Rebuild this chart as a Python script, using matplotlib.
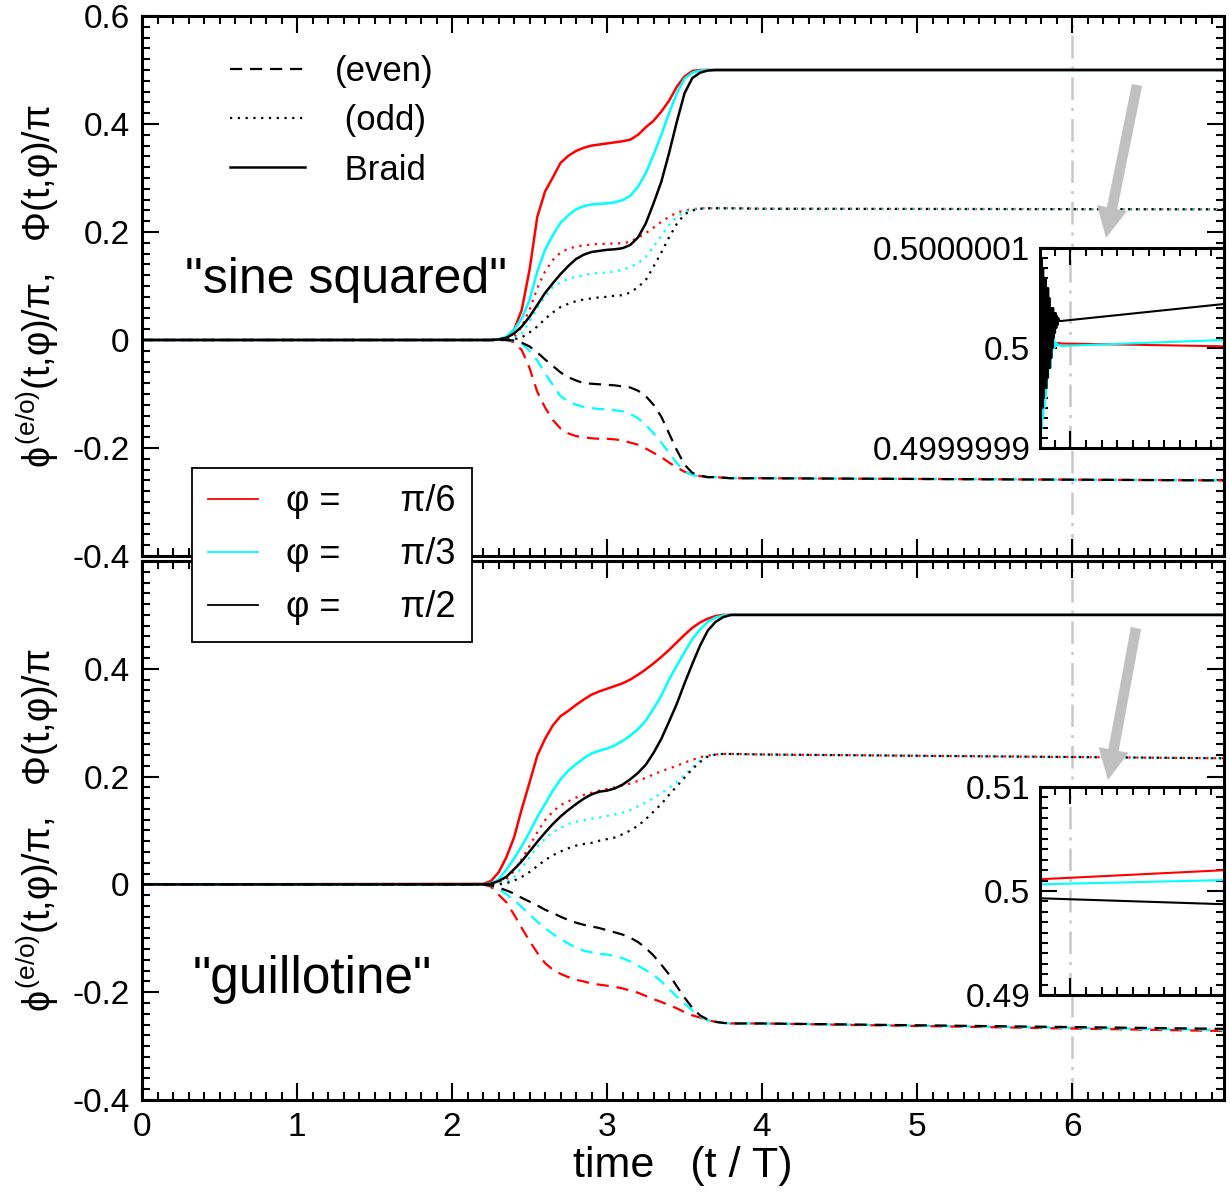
import matplotlib
matplotlib.use('Agg')
import matplotlib.pyplot as plt
from matplotlib.lines import Line2D
from matplotlib.patches import FancyArrowPatch
from matplotlib.ticker import MultipleLocator, FixedLocator

plt.rcParams['font.family'] = ['Liberation Sans', 'DejaVu Sans']
plt.rcParams['font.size'] = 24
plt.rcParams['axes.unicode_minus'] = False
plt.rcParams['mathtext.fontset'] = 'custom'
plt.rcParams['mathtext.rm'] = 'Liberation Sans'
plt.rcParams['mathtext.it'] = 'Liberation Sans'
plt.rcParams['mathtext.bf'] = 'Liberation Sans:bold'
plt.rcParams['mathtext.fallback'] = 'stixsans'

# time grid (t / T)
t_grid = [0.0, 2.20, 2.25, 2.30, 2.35, 2.40, 2.45, 2.50, 2.55, 2.60, 2.65, 2.70,
          2.75, 2.80, 2.85, 2.90, 2.95, 3.00, 3.05, 3.10, 3.15, 3.20, 3.25, 3.30,
          3.35, 3.40, 3.45, 3.50, 3.55, 3.60, 3.65, 3.70, 3.75, 3.80, 4.0, 6.98]

# "sine squared" pulse
sine_braid_red = [0, 0, 0, 0.001, 0.005, 0.019, 0.056, 0.130, 0.228, 0.275, 0.301, 0.328, 0.341, 0.350, 0.356, 0.360, 0.362, 0.364, 0.366, 0.368, 0.371, 0.380, 0.394, 0.406, 0.423, 0.443, 0.469, 0.488, 0.498, 0.500, 0.500, 0.500, 0.500, 0.500, 0.500, 0.500]
sine_braid_cyan = [0, 0, 0, 0.001, 0.006, 0.019, 0.040, 0.074, 0.127, 0.167, 0.194, 0.217, 0.231, 0.242, 0.248, 0.251, 0.252, 0.253, 0.255, 0.259, 0.267, 0.284, 0.309, 0.343, 0.380, 0.420, 0.457, 0.484, 0.495, 0.499, 0.500, 0.500, 0.500, 0.500, 0.500, 0.500]
sine_braid_black = [0, 0, 0, 0.001, 0.004, 0.012, 0.025, 0.043, 0.065, 0.087, 0.105, 0.122, 0.137, 0.150, 0.158, 0.163, 0.165, 0.167, 0.168, 0.170, 0.176, 0.190, 0.216, 0.253, 0.293, 0.346, 0.404, 0.457, 0.485, 0.495, 0.499, 0.500, 0.500, 0.500, 0.500, 0.500]
sine_odd_red = [0, 0, 0, 0, 0.001, 0.005, 0.025, 0.056, 0.096, 0.127, 0.148, 0.162, 0.169, 0.173, 0.175, 0.177, 0.178, 0.178, 0.179, 0.179, 0.182, 0.190, 0.198, 0.208, 0.219, 0.228, 0.236, 0.240, 0.242, 0.244, 0.244, 0.244, 0.244, 0.244, 0.243, 0.242]
sine_odd_cyan = [0, 0, 0, 0, 0, 0.002, 0.012, 0.034, 0.059, 0.080, 0.098, 0.107, 0.113, 0.117, 0.120, 0.123, 0.124, 0.125, 0.127, 0.130, 0.135, 0.142, 0.154, 0.173, 0.193, 0.213, 0.228, 0.238, 0.241, 0.243, 0.244, 0.244, 0.244, 0.244, 0.243, 0.242]
sine_odd_black = [0, 0, 0, 0, 0, 0.001, 0.005, 0.014, 0.025, 0.039, 0.051, 0.061, 0.067, 0.072, 0.075, 0.077, 0.079, 0.080, 0.082, 0.083, 0.088, 0.098, 0.111, 0.136, 0.162, 0.190, 0.215, 0.233, 0.240, 0.243, 0.244, 0.244, 0.244, 0.244, 0.243, 0.242]
sine_even_red = [0, 0, 0, 0, 0, -0.004, -0.019, -0.052, -0.096, -0.125, -0.148, -0.164, -0.173, -0.178, -0.180, -0.182, -0.183, -0.183, -0.184, -0.186, -0.190, -0.194, -0.201, -0.209, -0.217, -0.227, -0.236, -0.244, -0.249, -0.252, -0.254, -0.254, -0.255, -0.256, -0.256, -0.260]
sine_even_cyan = [0, 0, 0, 0, 0, -0.002, -0.007, -0.020, -0.038, -0.062, -0.083, -0.104, -0.114, -0.120, -0.124, -0.126, -0.128, -0.128, -0.130, -0.132, -0.137, -0.145, -0.157, -0.173, -0.190, -0.209, -0.228, -0.243, -0.250, -0.253, -0.254, -0.254, -0.255, -0.256, -0.256, -0.260]
sine_even_black = [0, 0, 0, 0, 0, -0.001, -0.005, -0.012, -0.023, -0.036, -0.048, -0.060, -0.069, -0.075, -0.080, -0.081, -0.082, -0.083, -0.084, -0.086, -0.088, -0.094, -0.104, -0.120, -0.142, -0.173, -0.204, -0.231, -0.246, -0.251, -0.254, -0.254, -0.255, -0.256, -0.256, -0.260]

# "guillotine" pulse
guil_braid_red = [0, 0.001, 0.006, 0.022, 0.050, 0.087, 0.140, 0.189, 0.239, 0.270, 0.295, 0.312, 0.322, 0.333, 0.343, 0.352, 0.358, 0.363, 0.368, 0.373, 0.380, 0.389, 0.399, 0.410, 0.422, 0.435, 0.449, 0.463, 0.476, 0.486, 0.493, 0.498, 0.500, 0.500, 0.500, 0.500]
guil_braid_cyan = [0, 0, 0.002, 0.009, 0.027, 0.048, 0.071, 0.097, 0.125, 0.149, 0.174, 0.195, 0.211, 0.223, 0.234, 0.243, 0.248, 0.252, 0.258, 0.266, 0.276, 0.288, 0.304, 0.326, 0.350, 0.380, 0.406, 0.431, 0.455, 0.473, 0.487, 0.495, 0.499, 0.500, 0.500, 0.500]
guil_braid_black = [0, 0, 0.001, 0.006, 0.014, 0.028, 0.043, 0.061, 0.079, 0.096, 0.112, 0.126, 0.138, 0.149, 0.159, 0.167, 0.172, 0.174, 0.178, 0.185, 0.195, 0.207, 0.222, 0.244, 0.270, 0.302, 0.335, 0.373, 0.409, 0.443, 0.471, 0.487, 0.496, 0.500, 0.500, 0.500]
guil_odd_red = [0, 0, 0, 0.003, 0.009, 0.025, 0.047, 0.071, 0.097, 0.119, 0.135, 0.147, 0.154, 0.161, 0.166, 0.170, 0.174, 0.177, 0.180, 0.184, 0.187, 0.192, 0.198, 0.204, 0.210, 0.215, 0.220, 0.226, 0.231, 0.236, 0.239, 0.241, 0.242, 0.242, 0.241, 0.234]
guil_odd_cyan = [0, 0, 0, 0.002, 0.004, 0.014, 0.031, 0.050, 0.070, 0.085, 0.097, 0.105, 0.112, 0.116, 0.119, 0.122, 0.124, 0.127, 0.130, 0.133, 0.138, 0.145, 0.152, 0.160, 0.169, 0.179, 0.190, 0.203, 0.217, 0.230, 0.239, 0.241, 0.242, 0.242, 0.241, 0.234]
guil_odd_black = [0, 0, 0, 0, 0.002, 0.007, 0.014, 0.023, 0.034, 0.045, 0.054, 0.061, 0.067, 0.072, 0.075, 0.077, 0.081, 0.084, 0.087, 0.093, 0.100, 0.109, 0.121, 0.135, 0.149, 0.166, 0.182, 0.198, 0.214, 0.227, 0.237, 0.241, 0.242, 0.242, 0.241, 0.234]
guil_even_red = [0, 0, -0.004, -0.019, -0.033, -0.056, -0.081, -0.105, -0.127, -0.146, -0.158, -0.166, -0.172, -0.177, -0.180, -0.184, -0.186, -0.188, -0.190, -0.193, -0.197, -0.201, -0.207, -0.213, -0.218, -0.224, -0.230, -0.237, -0.243, -0.247, -0.252, -0.255, -0.257, -0.258, -0.258, -0.272]
guil_even_cyan = [0, 0, -0.002, -0.008, -0.018, -0.029, -0.042, -0.056, -0.069, -0.081, -0.092, -0.101, -0.110, -0.117, -0.123, -0.126, -0.129, -0.130, -0.133, -0.137, -0.143, -0.151, -0.159, -0.168, -0.180, -0.194, -0.208, -0.221, -0.234, -0.245, -0.252, -0.256, -0.257, -0.258, -0.258, -0.270]
guil_even_black = [0, 0, -0.002, -0.006, -0.011, -0.017, -0.025, -0.032, -0.039, -0.047, -0.053, -0.060, -0.066, -0.071, -0.075, -0.078, -0.081, -0.085, -0.089, -0.093, -0.099, -0.107, -0.118, -0.132, -0.149, -0.167, -0.189, -0.210, -0.229, -0.243, -0.251, -0.255, -0.257, -0.258, -0.258, -0.268]

# inset 1 (sine squared): deviation of Phi from 0.5, in units of 1e-8
ins1_t = [5.806, 5.810, 5.814, 5.818, 5.822, 5.826, 5.830, 5.834, 5.838, 5.842,
          5.846, 5.850, 5.854, 5.858, 5.862, 5.866, 5.870, 5.874, 5.878, 5.882,
          5.886, 5.890, 5.894, 5.898, 5.902, 5.906, 5.910, 5.914, 5.918, 5.922,
          5.930, 5.940, 6.980]
ins1_black = [0, 9, -5, 9, -6, 8, -5, 7, -4, 7, -4, 6, -3, 6, -2, 5, -2, 4, -1, 4,
              0, 4, 1, 3.5, 1.5, 3.5, 2, 3.2, 2.3, 3, 2.7, 2.7, 4.4]
ins1_cyan = [0, -7, 7, -8, 6, -7, 5, -6, 4, -5, 3, -4, 2, -3, 2, -2, 1, -2, 1, -1,
             1, 0, 1, 0, 0.6, 0.2, 0.5, 0.3, 0.4, 0.3, 0.3, 0.2, 0.8]
ins1_red = [0, 2, -2, 2, -2, 1.5, -1.5, 1, -1, 1, -1, 0.8, -0.5, 0.6, 0, 0.5, 0.3, 0.5,
            0.4, 0.5, 0.5, 0.5, 0.5, 0.5, 0.5, 0.5, 0.5, 0.5, 0.5, 0.5, 0.5, 0.45, 0.17]

# inset 2 (guillotine): deviation of Phi from 0.5, in units of 1e-3
ins2_t = [5.806, 6.98]
ins2_red = [1.13, 2.0]
ins2_cyan = [0.64, 1.05]
ins2_black = [-0.7, -1.27]

colors = {'red': '#ff0000', 'cyan': '#00ffff', 'black': '#000000'}
phi_labels = [u'\u03c6 =      \u03c0/6', u'\u03c6 =      \u03c0/3', u'\u03c6 =      \u03c0/2']
ylabel = r'$\phi^{(e/o)}(t{,}\varphi)/\pi{,}\ \ \ \Phi(t{,}\varphi)/\pi$'

DASH = (0, (5.5, 3.5))
DOT = (0, (1, 2.5))
DASHDOT = (0, (9, 3.2, 1.2, 3.2))
GRAY = '#c8c8c8'

fig = plt.figure(figsize=(12.3, 11.96), dpi=100)
ax1 = fig.add_axes([0.11545, 0.53512, 0.87967, 0.45151])
ax2 = fig.add_axes([0.11545, 0.08027, 0.87967, 0.45067])


def style_main(ax):
    ax.set_xlim(0, 6.98)
    ax.set_ylim(-0.4, 0.6)
    ax.xaxis.set_major_locator(MultipleLocator(1))
    ax.xaxis.set_minor_locator(MultipleLocator(0.1))
    ax.yaxis.set_major_locator(FixedLocator([-0.4, -0.2, 0, 0.2, 0.4, 0.6]))
    ax.yaxis.set_minor_locator(MultipleLocator(0.02))
    ax.tick_params(which='both', direction='in', top=True, right=True, width=1.5)
    ax.tick_params(which='major', length=12, pad=9)
    ax.tick_params(which='minor', length=6)
    for s in ax.spines.values():
        s.set_linewidth(2.2)
    ax.axvline(6, color=GRAY, lw=1.8, ls=DASHDOT, zorder=1)
    ax.set_ylabel(ylabel, fontsize=27)
    ax.yaxis.set_label_coords(-0.075, 0.5)


style_main(ax1)
style_main(ax2)

sets1 = [(sine_even_red, sine_odd_red, sine_braid_red, 'red'),
         (sine_even_cyan, sine_odd_cyan, sine_braid_cyan, 'cyan'),
         (sine_even_black, sine_odd_black, sine_braid_black, 'black')]
sets2 = [(guil_even_red, guil_odd_red, guil_braid_red, 'red'),
         (guil_even_cyan, guil_odd_cyan, guil_braid_cyan, 'cyan'),
         (guil_even_black, guil_odd_black, guil_braid_black, 'black')]

for ax, sets in [(ax1, sets1), (ax2, sets2)]:
    for even, odd, braid, c in sets:
        ax.plot(t_grid, even, color=colors[c], lw=1.6, ls=DASH, zorder=2)
        ax.plot(t_grid, odd, color=colors[c], lw=1.6, ls=DOT, zorder=2)
        ax.plot(t_grid, braid, color=colors[c], lw=1.8, zorder=2)

ax1.set_yticklabels(['-0.4', '-0.2', '0', '0.2', '0.4', '0.6'])
ax2.set_yticklabels(['-0.4', '-0.2', '0', '0.2', '0.4', ''])
ax1.set_xticklabels([])
ax2.set_xticks(range(7))
ax2.set_xticklabels([str(i) for i in range(7)])
ax2.set_xlabel('time   (t / T)', fontsize=31, labelpad=2)

ax1.text(0.040, 0.511, '"sine squared"', transform=ax1.transAxes,
         fontsize=36, ha='left', va='center')
ax2.text(0.047, 0.223, '"guillotine"', transform=ax2.transAxes,
         fontsize=37, ha='left', va='center')

# line-style legend
style_handles = [Line2D([], [], color='k', lw=1.6, ls=DASH),
                 Line2D([], [], color='k', lw=1.6, ls=DOT),
                 Line2D([], [], color='k', lw=1.8)]
ax1.legend(style_handles, ['(even)', ' (odd)', ' Braid'], loc='upper left',
           bbox_to_anchor=(0.0813, 0.928), frameon=False, fontsize=25,
           handlelength=2.16, handletextpad=0.86, labelspacing=0.47,
           borderpad=0, borderaxespad=0)

# colour legend straddling both panels
phi_handles = [Line2D([], [], color=colors[c], lw=1.3) for c in ['red', 'cyan', 'black']]
leg = fig.legend(phi_handles, phi_labels, loc='upper left',
                 bbox_to_anchor=(0.1561, 0.6087), fontsize=26, fancybox=False,
                 framealpha=1, edgecolor='black', handlelength=1.38,
                 handletextpad=0.78, labelspacing=0.5, borderpad=0.45,
                 borderaxespad=0)
leg.get_frame().set_linewidth(1.3)


def style_inset(ax, ylabels):
    ax.set_facecolor('white')
    ax.set_xlim(5.806, 6.98)
    ax.set_ylim(-10, 10)
    ax.xaxis.set_major_locator(FixedLocator([6]))
    ax.xaxis.set_minor_locator(MultipleLocator(0.1))
    ax.yaxis.set_major_locator(FixedLocator([-10, 0, 10]))
    ax.yaxis.set_minor_locator(MultipleLocator(1))
    ax.set_xticklabels([])
    ax.set_yticklabels(ylabels)
    ax.tick_params(which='both', direction='in', top=True, right=True, width=1.5)
    ax.tick_params(which='major', length=12, pad=7, labelsize=24)
    ax.tick_params(which='minor', length=6)
    for s in ax.spines.values():
        s.set_linewidth(2.2)
    ax.axvline(6, color=GRAY, lw=1.8, ls=DASHDOT, zorder=1)


in1 = fig.add_axes([0.84553, 0.62542, 0.14959, 0.16722])
style_inset(in1, ['0.4999999', '0.5', '0.5000001'])
in1.plot(ins1_t, ins1_red, color=colors['red'], lw=1.5, zorder=2)
in1.plot(ins1_t, ins1_cyan, color=colors['cyan'], lw=1.5, zorder=2)
in1.plot(ins1_t, ins1_black, color=colors['black'], lw=1.5, zorder=2)

in2 = fig.add_axes([0.84553, 0.16806, 0.14959, 0.17391])
style_inset(in2, ['0.49', '0.5', '0.51'])
in2.plot(ins2_t, ins2_red, color=colors['red'], lw=1.5, zorder=2)
in2.plot(ins2_t, ins2_cyan, color=colors['cyan'], lw=1.5, zorder=2)
in2.plot(ins2_t, ins2_black, color=colors['black'], lw=1.5, zorder=2)

# grey arrows pointing at the insets (figure pixel positions)
W, H = 1230.0, 1196.0
for (x0, y0), (x1, y1) in [((1137, 85), (1106, 238)), ((1136, 628), (1108, 780))]:
    arr = FancyArrowPatch((x0 / W, 1 - y0 / H), (x1 / W, 1 - y1 / H),
                          transform=fig.transFigure,
                          arrowstyle='simple,head_width=2.2,head_length=2.2,tail_width=0.75',
                          mutation_scale=10, color='#c0c0c0', lw=0,
                          shrinkA=0, shrinkB=0, zorder=10)
    fig.patches.append(arr)

fig.savefig('out.png', dpi=100)
